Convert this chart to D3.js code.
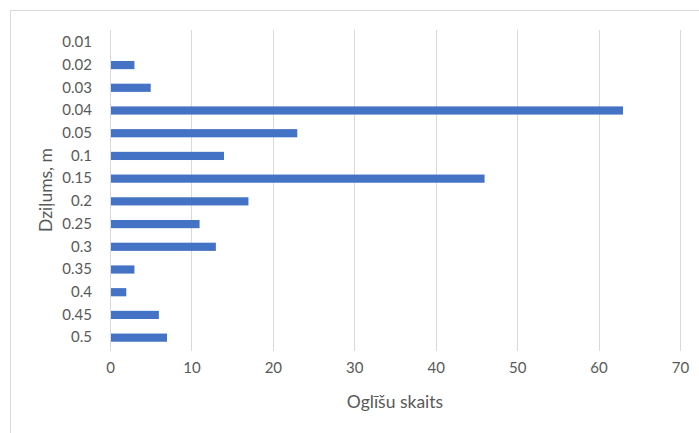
<!DOCTYPE html>
<html>
<head>
<meta charset="utf-8">
<script src="https://cdn.jsdelivr.net/npm/d3@7"></script>
<style>
html,body{margin:0;padding:0;background:#fff;}
svg{display:block;}
text{font-family:Lato,"Open Sans",sans-serif;fill:#595959;}
</style>
</head>
<body>
<svg id="chart" width="699" height="433"></svg>
<script>
const categories = ["0.01","0.02","0.03","0.04","0.05","0.1","0.15","0.2","0.25","0.3","0.35","0.4","0.45","0.5"];
const counts = [0,3,5,63,23,14,46,17,11,13,3,2,6,7];
const xTicks = [0,10,20,30,40,50,60,70];
const xTitle = "Oglīšu skaits";
const yTitle = "Dziļums, m";

const svg = d3.select("#chart");
const m = {left:110, right:19, top:31, bottom:84};
const W = 699, H = 433;

svg.append("rect").attr("x",10.5).attr("y",10.5).attr("width",720).attr("height",440)
  .attr("fill","#fff").attr("stroke","#d9d9d9").attr("stroke-width",1);

const x = d3.scaleLinear().domain([0,70]).range([m.left, W - m.right]);
const y = d3.scaleBand().domain(categories).range([m.top, H - m.bottom]).paddingInner(0.64).paddingOuter(0.32);

// gridlines
svg.append("g").selectAll("line").data(xTicks).join("line")
  .attr("x1",d=>Math.round(x(d))+0.5).attr("x2",d=>Math.round(x(d))+0.5)
  .attr("y1",30).attr("y2",351)
  .attr("stroke","#d9d9d9").attr("stroke-width",1);

// bars
svg.append("g").selectAll("rect").data(categories).join("rect")
  .attr("x",x(0)+1)
  .attr("y",d=>y(d))
  .attr("width",(d,i)=>Math.max(0,x(counts[i])-x(0)-1))
  .attr("height",y.bandwidth())
  .attr("fill","#4472C4");

// x axis labels
const xAxis = d3.axisBottom(x).tickValues(xTicks).tickSize(0).tickPadding(0);
const gx = svg.append("g").attr("transform","translate(0,362)").call(xAxis);
gx.select(".domain").remove();
gx.selectAll("text").attr("font-size",15).attr("fill","#595959").attr("font-family","Lato,'Open Sans',sans-serif");

// y axis labels
const yAxis = d3.axisLeft(y).tickSize(0).tickPadding(18);
const gy = svg.append("g").attr("transform",`translate(${m.left},0)`).call(yAxis);
gy.select(".domain").remove();
gy.selectAll("text").attr("font-size",15).attr("fill","#595959").attr("font-family","Lato,'Open Sans',sans-serif");

// titles
svg.append("text").attr("x",(x(0)+x(70))/2).attr("y",408).attr("text-anchor","middle")
  .attr("font-size",17.5).text(xTitle);
svg.append("text").attr("transform",`translate(52,${(m.top + H - m.bottom)/2}) rotate(-90)`)
  .attr("text-anchor","middle").attr("font-size",17.5).text(yTitle);
</script>
</body>
</html>
